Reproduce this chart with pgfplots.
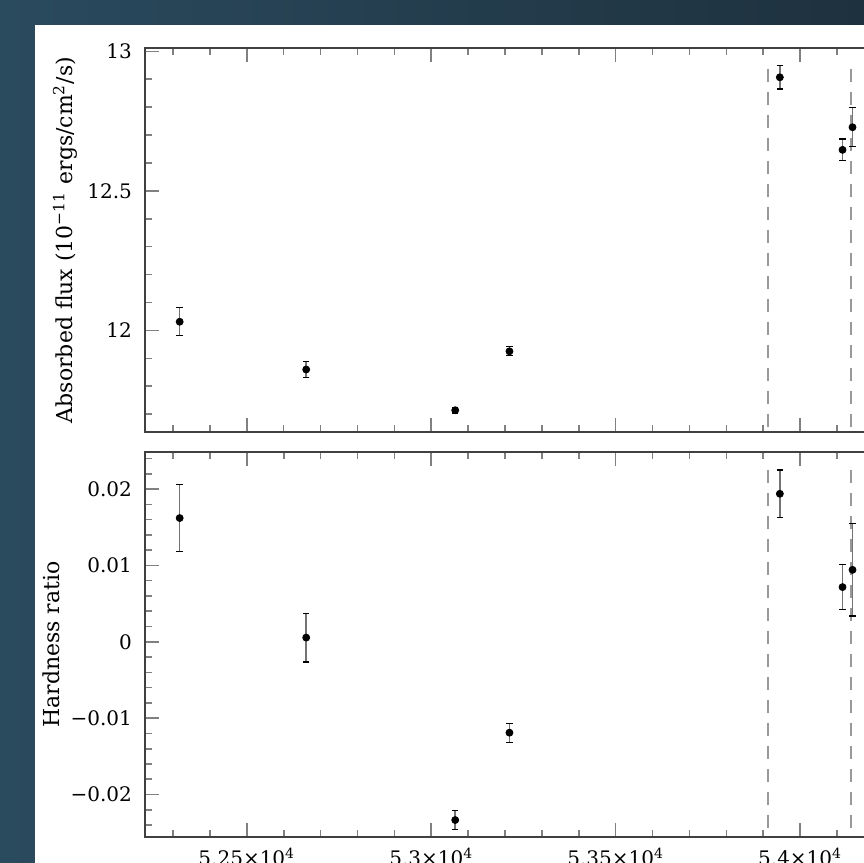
\documentclass[border=0pt]{standalone}
\usepackage{fontspec}
\setmainfont{DejaVu Serif}
\usepackage{pgfplots}
\usepackage{pgfplotstable}
\pgfplotsset{compat=1.18}
\definecolor{bgL}{HTML}{2A4A5E}
\definecolor{bgR}{HTML}{1E313E}

\pgfplotstableread{
x y e
52318 12.031 0.050
52661 11.860 0.029
53065 11.714 0.010
53212 11.925 0.016
53945 12.907 0.042
54115 12.647 0.039
54142 12.728 0.070
}\fluxdata

\pgfplotstableread{
x y e
52318 0.01620 0.00437
52661 0.00055 0.00320
53065 -0.02334 0.00120
53212 -0.01190 0.00125
53945 0.01938 0.00310
54115 0.00716 0.00292
54142 0.00942 0.00605
}\hrdata

\begin{document}
\begin{tikzpicture}
\useasboundingbox (0,0) rectangle (432pt,431.5pt);
\shade[left color=bgL,right color=bgR] (0,0) rectangle (432pt,431.5pt);
\fill[white] (17.5pt,0) rectangle (440pt,419pt);
\pgfplotsset{
  myax/.style={
    scale only axis, width=382.9pt,
    xmin=52224, xmax=54300,
    scaled ticks=false,
    xtick={52500,53000,53500,54000},
    minor xtick={52300,52400,52600,52700,52800,52900,53100,53200,53300,53400,53600,53700,53800,53900,54100,54200},
    tick align=inside,
    major tick length=6.85pt, minor tick length=3.5pt,
    axis line style={black!75, line width=0.7pt},
    every tick/.style={black!50, line width=0.8pt},
    yticklabel style={font=\fontsize{10}{12}\selectfont, xshift=-3pt},
    xticklabel style={font=\fontsize{10}{12}\selectfont, yshift=-2pt},
    vl/.style={black!40, line width=1pt, dash pattern=on 6.5pt off 5pt},
    pts/.style={only marks, mark=*, black, mark size=1.75pt,
      error bars/.cd, y dir=both, y explicit,
      error bar style={black!55, line width=0.8pt},
      error mark options={black, mark size=1.6pt, line width=0.6pt, rotate=90}},
  }
}
\begin{axis}[myax, at={(72.5pt,215.5pt)}, anchor=south west, height=192pt,
  ymin=11.636, ymax=13.012,
  ytick={12,12.5,13}, yticklabels={12,12.5,13},
  minor ytick={11.7,11.8,11.9,12.1,12.2,12.3,12.4,12.6,12.7,12.8,12.9},
  xticklabels={},
  every axis y label/.style={at={(axis description cs:-0.1045,0.5)}, rotate=90, anchor=center, font=\fontsize{11}{13}\selectfont},
  ylabel={Absorbed flux (10\textsuperscript{−11} ergs/cm\textsuperscript{2}/s)}]
\addplot[vl] coordinates {(53912,12.938) (53912,11.636)};
\addplot[vl] coordinates {(54138,12.938) (54138,11.636)};
\addplot[pts] table[x=x, y=y, y error=e] {\fluxdata};
\end{axis}
\begin{axis}[myax, at={(72.5pt,13pt)}, anchor=south west, height=192.5pt,
  ymin=-0.02556, ymax=0.02485,
  ytick={-0.02,-0.01,0,0.01,0.02}, yticklabels={−0.02,−0.01,0,0.01,0.02},
  minor ytick={-0.024,-0.022,-0.018,-0.016,-0.014,-0.012,-0.008,-0.006,-0.004,-0.002,0.002,0.004,0.006,0.008,0.012,0.014,0.016,0.018,0.022,0.024},
  xticklabels={5.25×10\textsuperscript{4},5.3×10\textsuperscript{4},5.35×10\textsuperscript{4},5.4×10\textsuperscript{4}},
  every axis y label/.style={at={(axis description cs:-0.1221,0.5)}, rotate=90, anchor=center, font=\fontsize{11}{13}\selectfont},
  ylabel={Hardness ratio}]
\addplot[vl] coordinates {(53912,0.0225) (53912,-0.02556)};
\addplot[vl] coordinates {(54138,0.0225) (54138,-0.02556)};
\addplot[pts] table[x=x, y=y, y error=e] {\hrdata};
\end{axis}
\end{tikzpicture}
\end{document}
